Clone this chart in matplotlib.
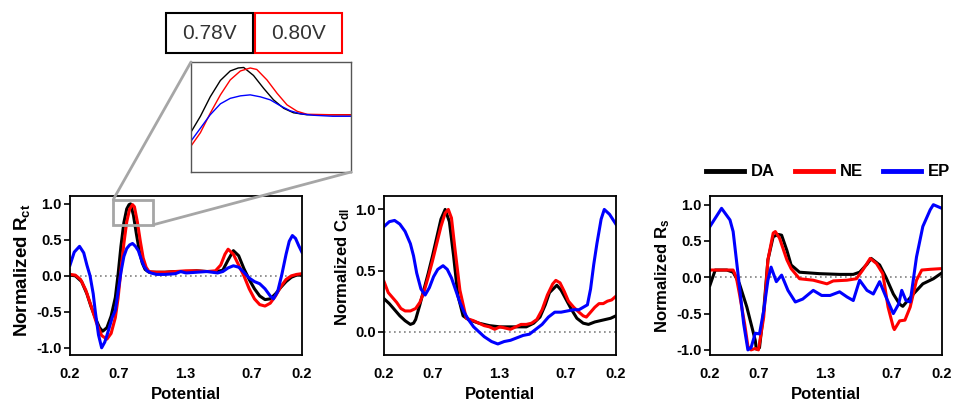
import matplotlib
matplotlib.use('Agg')
import numpy as np
import matplotlib.pyplot as plt
from matplotlib import rcParams
from matplotlib.patches import Rectangle, ConnectionPatch
from matplotlib.lines import Line2D

params = {
    'font.family': ['Liberation Sans', 'DejaVu Sans'],
    'font.weight': 'bold',
    'mathtext.fontset': 'custom',
    'mathtext.rm': 'Liberation Sans:bold',
    'mathtext.bf': 'Liberation Sans:bold',
    'mathtext.default': 'bf',
    'axes.linewidth': 1.3,
}
rcParams.update(params)

# x = distance travelled along the sweep 0.2 -> 1.3 -> 0.2 V
tick_labels = ['0.2', '0.7', '1.3', '0.7', '0.2']
series_names = ['DA', 'NE', 'EP']
peak_labels = ['0.78V', '0.80V']

# ---- Normalized Rct
rct_da_x = [0.00, 0.05, 0.11, 0.16, 0.20, 0.25, 0.28, 0.31, 0.35, 0.39, 0.43, 0.456, 0.483, 0.511,
            0.538, 0.56, 0.575, 0.602, 0.63, 0.657, 0.685, 0.712, 0.749, 0.80, 0.90, 1.00, 1.10,
            1.20, 1.30, 1.40, 1.45, 1.50, 1.55, 1.60, 1.65, 1.70, 1.75, 1.80, 1.85, 1.90, 1.95,
            2.00, 2.05, 2.10, 2.15, 2.20]
rct_da_y = [0.01, 0.00, -0.08, -0.25, -0.43, -0.62, -0.72, -0.77, -0.72, -0.56, -0.30, 0.02, 0.41, 0.74,
            0.93, 0.99, 1.00, 0.84, 0.58, 0.35, 0.18, 0.09, 0.05, 0.05, 0.05, 0.06, 0.06,
            0.07, 0.06, 0.06, 0.08, 0.22, 0.35, 0.28, 0.10, -0.05, -0.18, -0.28, -0.33, -0.32, -0.25,
            -0.16, -0.08, -0.02, 0.01, 0.01]
rct_ne_x = [0.00, 0.05, 0.10, 0.15, 0.20, 0.25, 0.30, 0.35, 0.39, 0.43, 0.456, 0.483, 0.511, 0.538,
            0.566, 0.593, 0.611, 0.639, 0.667, 0.694, 0.722, 0.749, 0.82, 0.90, 1.00, 1.10, 1.20,
            1.30, 1.38, 1.43, 1.47, 1.50, 1.55, 1.60, 1.65, 1.70, 1.75, 1.80, 1.85, 1.90, 1.95,
            2.00, 2.05, 2.10, 2.15, 2.20]
rct_ne_y = [0.02, 0.01, -0.05, -0.20, -0.42, -0.65, -0.83, -0.88, -0.80, -0.58, -0.31, 0.08, 0.45, 0.75,
            0.93, 0.99, 0.96, 0.75, 0.48, 0.25, 0.12, 0.06, 0.05, 0.05, 0.06, 0.07, 0.07,
            0.06, 0.07, 0.15, 0.30, 0.37, 0.30, 0.15, 0.00, -0.18, -0.32, -0.40, -0.42, -0.38, -0.28,
            -0.15, -0.05, 0.00, 0.02, 0.03]
rct_ep_x = [0.00, 0.04, 0.09, 0.13, 0.16, 0.19, 0.22, 0.24, 0.27, 0.30, 0.33, 0.36, 0.40, 0.43, 0.456,
            0.483, 0.511, 0.538, 0.566, 0.593, 0.621, 0.648, 0.676, 0.703, 0.731, 0.767, 0.82, 0.90,
            1.00, 1.05, 1.10, 1.20, 1.30, 1.40, 1.45, 1.50, 1.55, 1.60, 1.65, 1.70, 1.75, 1.80, 1.85,
            1.90, 1.93, 1.97, 2.01, 2.05, 2.08, 2.11, 2.14, 2.17, 2.20]
rct_ep_y = [0.15, 0.33, 0.41, 0.32, 0.15, 0.00, -0.25, -0.50, -0.82, -1.00, -0.92, -0.78, -0.58, -0.48, -0.22,
            0.05, 0.27, 0.38, 0.43, 0.45, 0.41, 0.35, 0.23, 0.13, 0.07, 0.04, 0.02, 0.02,
            0.03, 0.06, 0.04, 0.05, 0.06, 0.04, 0.06, 0.11, 0.14, 0.12, 0.05, -0.03, -0.08, -0.11, -0.18,
            -0.28, -0.32, -0.22, 0.02, 0.30, 0.48, 0.56, 0.52, 0.42, 0.33]

# ---- Normalized Cdl
cdl_da_x = [0.00, 0.05, 0.10, 0.15, 0.20, 0.25, 0.28, 0.30, 0.34, 0.38, 0.42, 0.46, 0.50, 0.54, 0.58,
            0.62, 0.66, 0.70, 0.75, 0.80, 0.90, 1.00, 1.10, 1.20, 1.30, 1.35, 1.42, 1.48, 1.53, 1.57,
            1.64, 1.68, 1.73, 1.78, 1.83, 1.89, 1.94, 2.00, 2.05, 2.10, 2.15, 2.20]
cdl_da_y = [0.27, 0.23, 0.18, 0.13, 0.09, 0.06, 0.07, 0.10, 0.22, 0.35, 0.48, 0.62, 0.77, 0.92, 1.00,
            0.90, 0.62, 0.30, 0.13, 0.10, 0.07, 0.05, 0.04, 0.04, 0.04, 0.04, 0.07, 0.12, 0.22, 0.32,
            0.38, 0.34, 0.26, 0.18, 0.11, 0.07, 0.06, 0.08, 0.09, 0.10, 0.11, 0.13]
cdl_ne_x = [0.00, 0.04, 0.08, 0.12, 0.16, 0.20, 0.25, 0.30, 0.34, 0.38, 0.42, 0.46, 0.50, 0.54, 0.58,
            0.61, 0.64, 0.67, 0.72, 0.78, 0.85, 0.90, 0.95, 1.00, 1.05, 1.10, 1.15, 1.20, 1.25, 1.30,
            1.35, 1.40, 1.45, 1.50, 1.55, 1.60, 1.63, 1.67, 1.71, 1.75, 1.80, 1.85, 1.89, 1.92, 1.96,
            2.00, 2.04, 2.08, 2.12, 2.16, 2.20]
cdl_ne_y = [0.41, 0.32, 0.28, 0.24, 0.19, 0.17, 0.17, 0.19, 0.24, 0.33, 0.45, 0.58, 0.72, 0.86, 0.97,
            1.00, 0.93, 0.70, 0.34, 0.11, 0.09, 0.07, 0.05, 0.04, 0.02, 0.04, 0.03, 0.02, 0.04, 0.06,
            0.06, 0.07, 0.10, 0.18, 0.30, 0.39, 0.42, 0.40, 0.33, 0.25, 0.20, 0.16, 0.13, 0.12, 0.16,
            0.20, 0.23, 0.23, 0.25, 0.26, 0.29]
cdl_ep_x = [0.00, 0.05, 0.10, 0.15, 0.20, 0.25, 0.28, 0.31, 0.35, 0.39, 0.43, 0.47, 0.51, 0.56, 0.60,
            0.64, 0.68, 0.72, 0.76, 0.80, 0.85, 0.90, 0.95, 1.02, 1.08, 1.14, 1.20, 1.26, 1.32, 1.38,
            1.44, 1.50, 1.56, 1.62, 1.68, 1.74, 1.80, 1.85, 1.89, 1.93, 1.96, 1.99, 2.02, 2.06, 2.09,
            2.14, 2.20]
cdl_ep_y = [0.86, 0.90, 0.91, 0.88, 0.82, 0.72, 0.62, 0.48, 0.35, 0.30, 0.36, 0.45, 0.51, 0.54, 0.51,
            0.44, 0.34, 0.24, 0.16, 0.10, 0.04, 0.00, -0.04, -0.08, -0.10, -0.08, -0.07, -0.05, -0.03, -0.02,
            0.02, 0.06, 0.12, 0.16, 0.16, 0.17, 0.18, 0.18, 0.20, 0.22, 0.35, 0.55, 0.72, 0.92, 1.00,
            0.96, 0.88]

# ---- Normalized Rs
rs_da_x = [0.00, 0.05, 0.16, 0.22, 0.28, 0.35, 0.39, 0.43, 0.44, 0.47, 0.51, 0.55, 0.60, 0.65, 0.68,
           0.73, 0.77, 0.85, 1.04, 1.23, 1.36, 1.42, 1.49, 1.53, 1.61, 1.67, 1.74, 1.80, 1.83, 1.93,
           2.02, 2.12, 2.20]
rs_da_y = [-0.11, 0.10, 0.10, 0.07, -0.09, -0.41, -0.64, -0.87, -0.99, -0.97, -0.46, 0.24, 0.56, 0.59, 0.58,
           0.37, 0.17, 0.07, 0.05, 0.04, 0.04, 0.07, 0.18, 0.26, 0.17, 0.00, -0.23, -0.37, -0.40, -0.23,
           -0.09, -0.02, 0.06]
rs_ne_x = [0.00, 0.22, 0.25, 0.28, 0.33, 0.36, 0.39, 0.43, 0.46, 0.51, 0.55, 0.60, 0.62, 0.66, 0.73,
           0.77, 0.85, 0.98, 1.11, 1.17, 1.30, 1.39, 1.45, 1.52, 1.58, 1.64, 1.69, 1.74, 1.75, 1.80,
           1.85, 1.90, 1.96, 2.01, 2.09, 2.20]
rs_ne_y = [0.10, 0.10, 0.00, -0.23, -0.65, -0.95, -1.00, -0.98, -1.00, -0.55, 0.24, 0.61, 0.63, 0.54, 0.24,
           0.12, -0.02, -0.04, -0.09, -0.05, -0.04, -0.02, 0.10, 0.26, 0.19, 0.05, -0.41, -0.69, -0.72, -0.60,
           -0.59, -0.41, -0.04, 0.10, 0.11, 0.12]
rs_ep_x = [0.00, 0.11, 0.19, 0.22, 0.27, 0.32, 0.36, 0.39, 0.43, 0.47, 0.51, 0.55, 0.58, 0.63, 0.68,
           0.74, 0.81, 0.88, 0.98, 1.06, 1.14, 1.23, 1.30, 1.36, 1.42, 1.49, 1.55, 1.61, 1.67, 1.74,
           1.79, 1.82, 1.86, 1.90, 1.96, 2.02, 2.09, 2.12, 2.20]
rs_ep_y = [0.70, 0.95, 0.79, 0.63, 0.00, -0.64, -1.00, -0.97, -0.77, -0.78, -0.46, -0.04, 0.14, -0.06, 0.03,
           -0.18, -0.34, -0.30, -0.18, -0.25, -0.25, -0.20, -0.27, -0.32, -0.04, -0.18, -0.23, -0.06, -0.27, -0.50,
           -0.37, -0.18, -0.32, -0.34, 0.28, 0.70, 0.93, 1.00, 0.95]

colors = ['black', '#ff0000', '#0000ff']
tick_pos = [0.0, 0.46, 1.09, 1.72, 2.2]

fig = plt.figure(figsize=(9.62, 4.05), dpi=100)

# rect, data, ylim, yticks, ylabel, label size, label x, label y
panels = [
    ([0.0728, 0.1235, 0.241, 0.3926], [(rct_da_x, rct_da_y), (rct_ne_x, rct_ne_y), (rct_ep_x, rct_ep_y)],
     (-1.1, 1.11), [-1.0, -0.5, 0.0, 0.5, 1.0], r'Normalized R$_{ct}$', 13.5, -0.165, 0.53),
    ([0.3992, 0.1235, 0.241, 0.3926], [(cdl_da_x, cdl_da_y), (cdl_ne_x, cdl_ne_y), (cdl_ep_x, cdl_ep_y)],
     (-0.19, 1.11), [0.0, 0.5, 1.0], r'Normalized C$_{dl}$', 12, -0.14, 0.55),
    ([0.738, 0.1235, 0.241, 0.3926], [(rs_da_x, rs_da_y), (rs_ne_x, rs_ne_y), (rs_ep_x, rs_ep_y)],
     (-1.07, 1.12), [-1.0, -0.5, 0.0, 0.5, 1.0], r'Normalized R$_{s}$', 12, -0.165, 0.5),
]

axes = []
for rect, data, ylim, yticks, ylabel, yl_size, yl_x, yl_y in panels:
    ax = fig.add_axes(rect)
    ax.axhline(0, color='#808080', ls=(0, (1, 2)), lw=1.2, zorder=1)
    for (xs, ys), c in zip(data, colors):
        ax.plot(xs, ys, color=c, lw=2.2, solid_joinstyle='round', zorder=2)
    ax.set_xlim(0, 2.2)
    ax.set_ylim(*ylim)
    ax.set_xticks(tick_pos)
    ax.set_xticklabels(tick_labels)
    ax.set_yticks(yticks)
    ax.set_yticklabels(['%.1f' % t for t in yticks])
    ax.tick_params(axis='x', length=0, pad=9, labelsize=10.5)
    ax.tick_params(axis='y', length=4, width=1.2, pad=2, labelsize=10.5)
    ax.set_xlabel('Potential', fontsize=12, fontweight='bold', labelpad=4)
    ax.set_ylabel(ylabel, fontsize=yl_size, fontweight='bold')
    ax.yaxis.set_label_coords(yl_x, yl_y)
    axes.append(ax)

ax1 = axes[0]

# zoom box on the Rct peak
ax1.add_patch(Rectangle((0.41, 0.71), 0.38, 0.35, fill=False, edgecolor='#a6a6a6', lw=2, zorder=5))

axins = fig.add_axes([0.1985, 0.5753, 0.1663, 0.2716])
for (xs, ys), c in zip(panels[0][1], colors):
    axins.plot(xs, ys, color=c, lw=1.0)
axins.set_xlim(0.43, 0.87)
axins.set_ylim(-1.1, 1.11)
axins.set_xticks([])
axins.set_yticks([])
for s in axins.spines.values():
    s.set_color('#555555')
    s.set_linewidth(1.0)

for xyA, xyB in [((0.41, 1.06), (0, 1)), ((0.79, 0.71), (1, 0))]:
    con = ConnectionPatch(xyA=xyA, coordsA=ax1.transData, xyB=xyB, coordsB=axins.transAxes,
                          color='#a6a6a6', lw=2)
    fig.add_artist(con)

# peak position labels
for lbl, left, ec in [(peak_labels[0], 0.1726, 'black'), (peak_labels[1], 0.2651, '#ff0000')]:
    fig.add_artist(Rectangle((left, 0.8691), 0.09, 0.0988, transform=fig.transFigure,
                             fill=False, edgecolor=ec, lw=1.5))
    fig.text(left + 0.045, 0.8691 + 0.0494, lbl, ha='center', va='center',
             fontsize=15, fontweight='normal', color='#333333')

handles = [Line2D([], [], color=c, lw=3.5) for c in colors]
fig.legend(handles, series_names, loc='center left', bbox_to_anchor=(706 / 962, 1 - 172 / 405),
           ncol=3, frameon=False, handlelength=2.3, handletextpad=0.4,
           columnspacing=1.2, borderpad=0, borderaxespad=0,
           prop={'weight': 'bold', 'size': 12})

plt.savefig('out.png', dpi=100)
